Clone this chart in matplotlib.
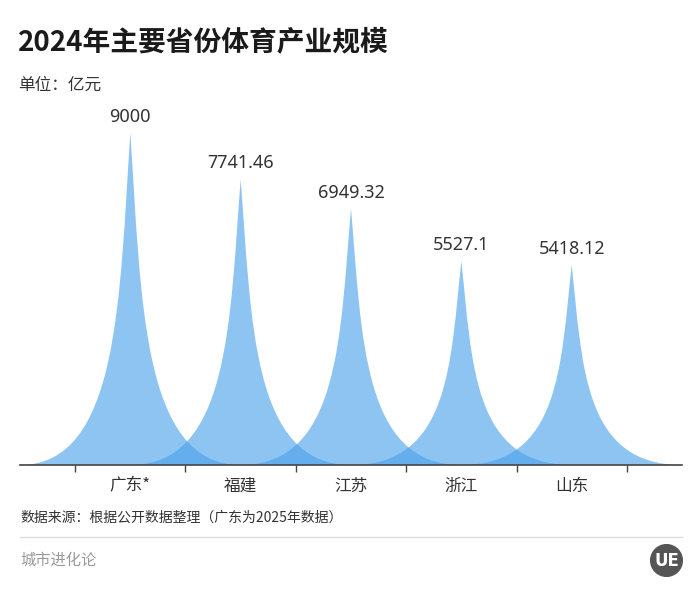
import numpy as np
import matplotlib
matplotlib.use("Agg")
import matplotlib.pyplot as plt
from matplotlib.path import Path
from matplotlib.patches import PathPatch, Circle

plt.rcParams['font.family'] = ['Noto Sans CJK SC', 'DejaVu Sans']

# data
provinces = ["广东*", "福建", "江苏", "浙江", "山东"]
values = [9000, 7741.46, 6949.32, 5527.1, 5418.12]
value_labels = ["9000", "7741.46", "6949.32", "5527.1", "5418.12"]

spike_color = "#4DA3EC"


def spike_path(xc, h, half_w=1.0):
    # concave "spike" shape, like an echarts pictorialBar path
    # M0,10 L10,10 C5.5,10 5.5,5 5,0 C4.5,5 4.5,10 0,10 z
    def pt(u, v):
        return (xc - half_w + u / 10 * 2 * half_w, h * (10 - v) / 10)
    verts = [pt(0, 10), pt(10, 10),
             pt(5.5, 10), pt(5.5, 5), pt(5, 0),
             pt(4.5, 5), pt(4.5, 10), pt(0, 10),
             pt(0, 10)]
    codes = [Path.MOVETO, Path.LINETO,
             Path.CURVE4, Path.CURVE4, Path.CURVE4,
             Path.CURVE4, Path.CURVE4, Path.CURVE4,
             Path.CLOSEPOLY]
    return Path(verts, codes)


fig = plt.figure(figsize=(7, 5.95), dpi=100)
ax = fig.add_axes([20 / 700, 1 - 465 / 595, 662 / 700, 369 / 595])

for i, v in enumerate(values):
    patch = PathPatch(spike_path(i, v), facecolor=spike_color, edgecolor="none", alpha=0.64)
    ax.add_patch(patch)
    ax.annotate(value_labels[i], (i, v), xytext=(0, 5), textcoords="offset points",
                ha="center", va="bottom", fontsize=13, color="#333333",
                family=["Noto Sans", "DejaVu Sans"])

ax.set_xlim(-1, 5)
ax.set_ylim(0, 10000)
ax.set_xticks(np.arange(-0.5, 5, 1.0))
ax.set_xticklabels([])
ax.set_xticks(np.arange(len(provinces)), minor=True)
ax.set_xticklabels(provinces, minor=True, fontsize=12, color="#333333")
ax.tick_params(axis="x", which="major", length=5, color="#444444", width=1)
ax.tick_params(axis="x", which="minor", length=0, pad=9)
ax.set_yticks([])
for s in ["top", "right", "left"]:
    ax.spines[s].set_visible(False)
ax.spines["bottom"].set_color("#444444")
ax.spines["bottom"].set_linewidth(1.2)

# titles and notes
fig.text(18 / 700, 1 - 42 / 595, "2024年主要省份体育产业规模", fontsize=20,
         fontweight="bold", color="#1a1a1a", va="center", ha="left")
fig.text(18 / 700, 1 - 85 / 595, "单位：亿元", fontsize=12, color="#333333",
         va="center", ha="left")
fig.text(20 / 700, 1 - 518 / 595, "数据来源：根据公开数据整理（广东为2025年数据）",
         fontsize=10, color="#333333", va="center", ha="left")
fig.add_artist(plt.Line2D([20 / 700, 682 / 700], [1 - 537 / 595, 1 - 537 / 595],
                          color="#dddddd", linewidth=1))
fig.text(20 / 700, 1 - 560 / 595, "城市进化论", fontsize=11, color="#999999",
         va="center", ha="left")

# small round logo
logo_ax = fig.add_axes([650 / 700, 1 - 577 / 595, 33 / 700, 33 / 595])
logo_ax.set_xlim(0, 1)
logo_ax.set_ylim(0, 1)
logo_ax.set_aspect("equal")
logo_ax.axis("off")
logo_ax.add_patch(Circle((0.5, 0.5), 0.48, color="#555555"))
logo_ax.text(0.5, 0.5, "UE", color="white", fontsize=12, fontweight="bold",
             ha="center", va="center", family=["DejaVu Sans"])

fig.savefig("out.png", dpi=100)
